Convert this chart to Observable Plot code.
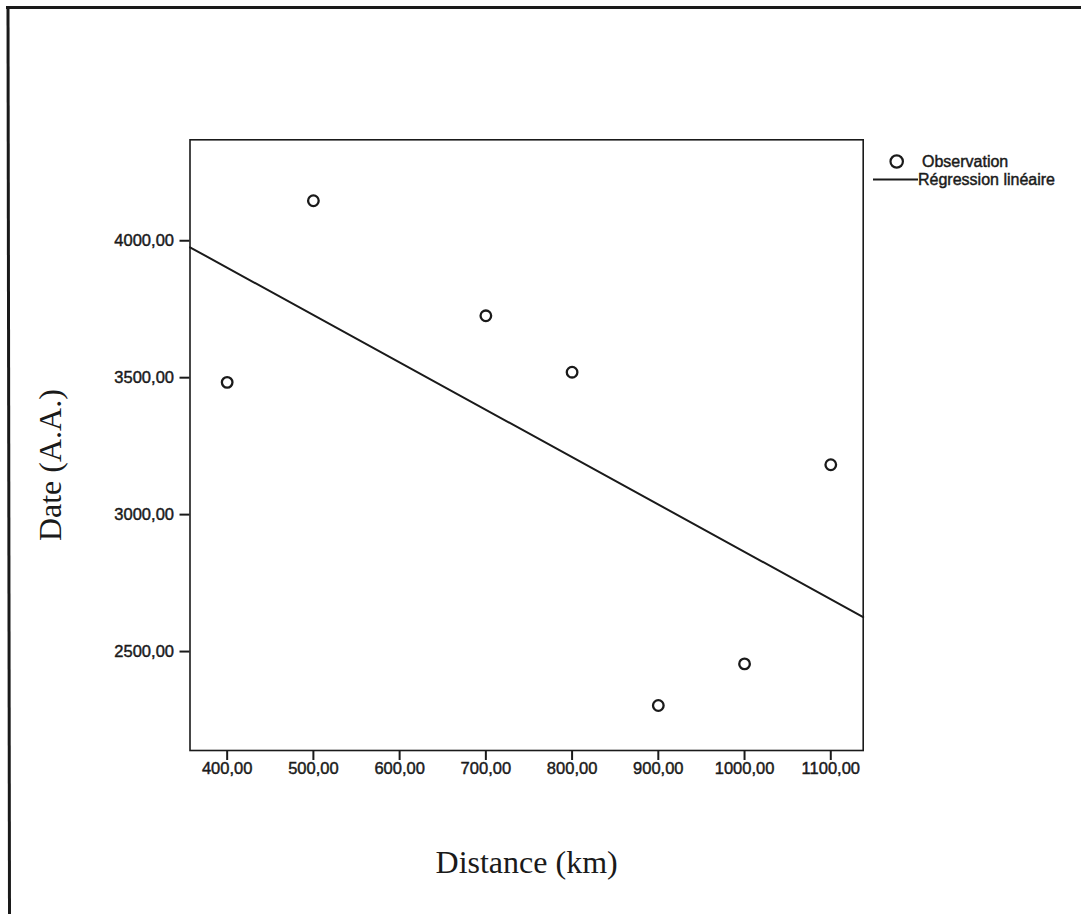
<!DOCTYPE html>
<html>
<head>
<meta charset="utf-8">
<script src="https://cdn.jsdelivr.net/npm/d3@7"></script>
<script src="https://cdn.jsdelivr.net/npm/@observablehq/plot@0.6"></script>
<style>
  html, body { margin: 0; padding: 0; background: #fff; }
  #chart { position: relative; width: 1081px; height: 914px; overflow: hidden; }
</style>
</head>
<body>
<div id="chart"></div>
<script>
// ---- data ----
const distances = [400, 500, 700, 800, 900, 1000, 1100];
const dates     = [3483, 4146, 3726, 3520, 2303, 2455, 3182];
const xTicks = [400, 500, 600, 700, 800, 900, 1000, 1100];
const yTicks = [2500, 3000, 3500, 4000];
const xDomain = [356.9, 1137.6];
const yDomain = [2138.7, 4368.6];
const xTitle = "Distance (km)";
const yTitle = "Date (A.A.)";
const legendLabels = ["Observation", "Régression linéaire"];

const obs = distances.map((d, i) => ({distance: d, date: dates[i]}));

// least-squares regression line computed from the observations
const mx = d3.mean(distances), my = d3.mean(dates);
const slope = d3.sum(obs, o => (o.distance - mx) * (o.date - my)) /
              d3.sum(obs, o => (o.distance - mx) ** 2);
const intercept = my - slope * mx;
const regLine = xDomain.map(x => ({distance: x, date: intercept + slope * x}));

const fmt = d => d.toFixed(2).replace(".", ",");
const sans = "'Liberation Sans', Arial, sans-serif";
const serif = "'Liberation Serif', 'Times New Roman', serif";

const plot = Plot.plot({
  width: 1081,
  height: 914,
  marginLeft: 189.5,
  marginRight: 218.3,
  marginTop: 139.3,
  marginBottom: 164,
  style: {background: "#fff", color: "#1a1a1a", fontFamily: sans, overflow: "visible"},
  x: {domain: xDomain},
  y: {domain: yDomain},
  marks: [
    Plot.frame({stroke: "#1a1a1a", strokeWidth: 1.6}),
    Plot.axisX({ticks: xTicks, tickFormat: fmt, tickSize: 10, tickPadding: 2,
                fontSize: 16.5, strokeWidth: 2, label: null, fill: "#1a1a1a"}),
    Plot.axisY({ticks: yTicks, tickFormat: fmt, tickSize: 10, tickPadding: 6,
                fontSize: 16.5, strokeWidth: 2, label: null, fill: "#1a1a1a"}),
    Plot.line(regLine, {x: "distance", y: "date", stroke: "#1a1a1a", strokeWidth: 2}),
    Plot.dot(obs, {x: "distance", y: "date", r: 5.3, stroke: "#1a1a1a", strokeWidth: 2.3, fill: "none"}),
    Plot.text([xTitle], {frameAnchor: "bottom", text: d => d, dy: 112, lineAnchor: "middle",
                         fontSize: 32, fontFamily: serif, fill: "#1a1a1a"}),
    Plot.text([yTitle], {frameAnchor: "left", text: d => d, rotate: -90, dx: -139.5, dy: 20,
                         lineAnchor: "middle", textAnchor: "middle",
                         fontSize: 32, fontFamily: serif, fill: "#1a1a1a"})
  ]
});

document.getElementById("chart").appendChild(plot);

// slightly heavier sans-serif glyphs, like the scanned original
d3.select(plot).selectAll("g[aria-label='x-axis tick label'] text, g[aria-label='y-axis tick label'] text")
  .attr("stroke", "#1a1a1a").attr("stroke-width", 0.45);

// ---- page border (top and left) and legend ----
const svg = d3.select(plot);
const deco = svg.append("g");
deco.append("line").attr("x1", 6).attr("x2", 1081).attr("y1", 7.5).attr("y2", 7.5)
  .attr("stroke", "#1a1a1a").attr("stroke-width", 3);
deco.append("line").attr("x1", 8).attr("x2", 9.5).attr("y1", 6).attr("y2", 914)
  .attr("stroke", "#1a1a1a").attr("stroke-width", 3);

const leg = svg.append("g").attr("font-family", sans).attr("font-size", 16)
  .attr("fill", "#1a1a1a").attr("stroke", "#1a1a1a").attr("stroke-width", 0.45)
  .attr("text-anchor", "start");
leg.append("circle").attr("cx", 896.7).attr("cy", 161.5).attr("r", 6.2)
  .attr("fill", "none").attr("stroke", "#1a1a1a").attr("stroke-width", 2.2);
leg.append("text").attr("x", 922).attr("y", 161).attr("dy", "0.35em")
  .attr("text-anchor", "start").text(legendLabels[0]);
leg.append("line").attr("x1", 873).attr("x2", 918).attr("y1", 179.5).attr("y2", 179.5)
  .attr("stroke", "#1a1a1a").attr("stroke-width", 1.8);
leg.append("text").attr("x", 918).attr("y", 179).attr("dy", "0.35em")
  .attr("text-anchor", "start").text(legendLabels[1]);
</script>
</body>
</html>
